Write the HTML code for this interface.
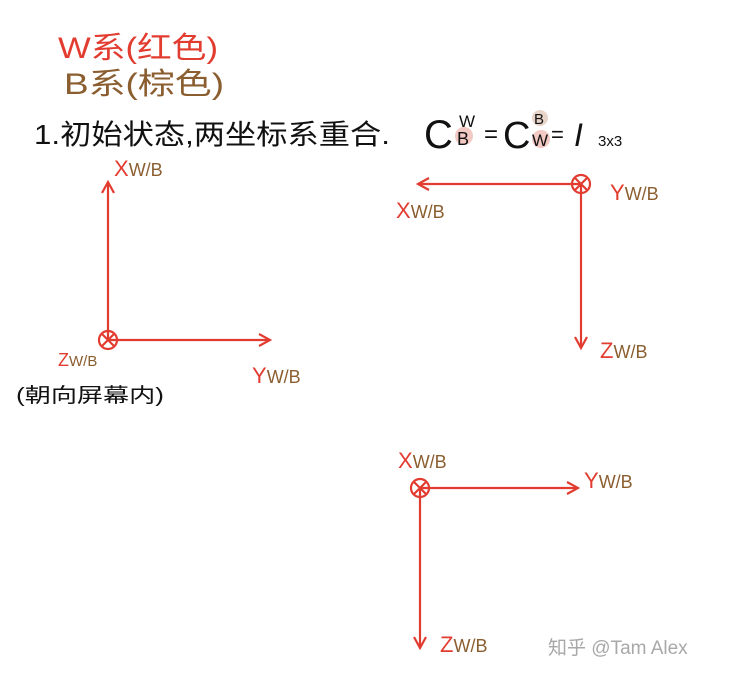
<!DOCTYPE html>
<html><head><meta charset="utf-8"><style>
body{margin:0;background:#fff;width:729px;height:677px;overflow:hidden}
svg{display:block}
text{font-family:"Liberation Sans","Noto Sans CJK SC",sans-serif}
</style></head><body>
<svg width="729" height="677" viewBox="0 0 729 677">
<defs>
<marker id="a" markerWidth="14" markerHeight="14" refX="12" refY="7" orient="auto" markerUnits="userSpaceOnUse">
<path d="M1,1 L12,7 L1,13" fill="none" stroke="#e23c30" stroke-width="2.2"/></marker>
</defs>
<text x="58" y="58" font-size="30" fill="#e23c30" textLength="160" lengthAdjust="spacingAndGlyphs">W系(红色)</text>
<text x="64" y="94" font-size="30" fill="#8b5e30" textLength="160" lengthAdjust="spacingAndGlyphs">B系(棕色)</text>
<text x="34" y="144" font-size="28" fill="#111" textLength="356" lengthAdjust="spacingAndGlyphs">1.初始状态,两坐标系重合.</text>
<circle cx="464" cy="136" r="9" fill="#f3c9c4"/>
<circle cx="540" cy="118" r="8" fill="#e8d5c9"/>
<circle cx="541" cy="139" r="9" fill="#f3c9c4"/>
<text x="424" y="148" font-size="40" fill="#111">C</text>
<text x="459" y="127" font-size="17" fill="#111">W</text>
<text x="457" y="145" font-size="18" fill="#111">B</text>
<text x="484" y="142" font-size="24" fill="#111">=</text>
<text x="503" y="148" font-size="38" fill="#111">C</text>
<text x="534" y="124" font-size="15" fill="#111">B</text>
<text x="532" y="146" font-size="17" fill="#111">W</text>
<text x="551" y="142" font-size="22" fill="#111">=</text>
<text x="574" y="146" font-size="32" font-style="italic" fill="#111">I</text>
<text x="598" y="146" font-size="15" fill="#111">3x3</text>

<g stroke="#e23c30" stroke-width="2.2" fill="none">
<line x1="108" y1="340" x2="108" y2="182" marker-end="url(#a)"/>
<line x1="108" y1="340" x2="270" y2="340" marker-end="url(#a)"/>
<circle cx="108" cy="340" r="9"/><path d="M102,334 L114,346 M114,334 L102,346"/>
<line x1="581" y1="184" x2="418" y2="184" marker-end="url(#a)"/>
<line x1="581" y1="184" x2="581" y2="348" marker-end="url(#a)"/>
<circle cx="581" cy="184" r="9"/><path d="M575,178 L587,190 M587,178 L575,190"/>
<line x1="420" y1="488" x2="578" y2="488" marker-end="url(#a)"/>
<line x1="420" y1="488" x2="420" y2="648" marker-end="url(#a)"/>
<circle cx="420" cy="488" r="9"/><path d="M414,482 L426,494 M426,482 L414,494"/>
</g>
<g font-size="22">
<text x="114" y="176" fill="#e23c30">X<tspan fill="#8b5e30" font-size="18">W/B</tspan></text>
<text x="58" y="366" fill="#e23c30" font-size="18">Z<tspan fill="#8b5e30" font-size="15">W/B</tspan></text>
<text x="252" y="383" fill="#e23c30">Y<tspan fill="#8b5e30" font-size="18">W/B</tspan></text>
<text x="610" y="200" fill="#e23c30">Y<tspan fill="#8b5e30" font-size="18">W/B</tspan></text>
<text x="396" y="218" fill="#e23c30">X<tspan fill="#8b5e30" font-size="18">W/B</tspan></text>
<text x="600" y="358" fill="#e23c30">Z<tspan fill="#8b5e30" font-size="18">W/B</tspan></text>
<text x="398" y="468" fill="#e23c30">X<tspan fill="#8b5e30" font-size="18">W/B</tspan></text>
<text x="584" y="488" fill="#e23c30">Y<tspan fill="#8b5e30" font-size="18">W/B</tspan></text>
<text x="440" y="652" fill="#e23c30">Z<tspan fill="#8b5e30" font-size="18">W/B</tspan></text>
</g>
<text x="16" y="402" font-size="20" fill="#111" textLength="148" lengthAdjust="spacingAndGlyphs">(朝向屏幕内)</text>
<text x="548" y="654" font-size="19" fill="#a8a8a8">知乎 @Tam Alex</text>
</svg>
</body></html>
